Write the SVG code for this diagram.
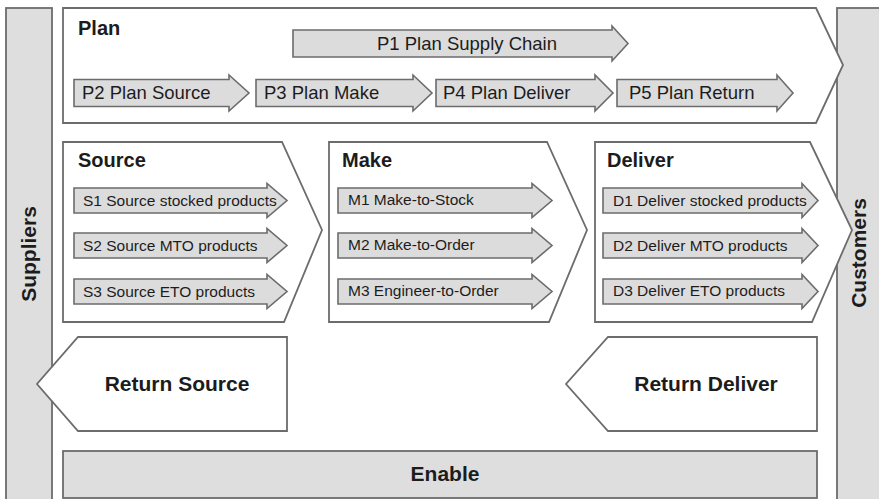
<svg xmlns="http://www.w3.org/2000/svg" width="879" height="499" viewBox="0 0 879 499">
  <style>
    .bar { fill: #dedede; stroke: #6c6c6c; stroke-width: 1.8; }
    .chev { fill: #ffffff; stroke: #6c6c6c; stroke-width: 1.8; stroke-linejoin: miter; }
    .arr { fill: #dcdcdc; stroke: #6c6c6c; stroke-width: 1.6; stroke-linejoin: miter; }
    text { font-family: "Liberation Sans", Arial, Helvetica, sans-serif; fill: #1c1c1c; }
    .title { font-size: 20px; font-weight: bold; }
    .big { font-size: 21px; font-weight: bold; }
    .pl { font-size: 18.5px; }
    .sub { font-size: 15.5px; }
  </style>

  <rect width="879" height="499" fill="#ffffff"/>

  <!-- side bars -->
  <g id="suppliers">
    <rect class="bar" x="6" y="8" width="46" height="500"/>
    <text class="big" transform="translate(36,254) rotate(-90)" text-anchor="middle">Suppliers</text>
  </g>
  <g id="customers">
    <rect class="bar" x="837" y="8" width="50" height="500"/>
    <text class="big" transform="translate(866,253) rotate(-90)" text-anchor="middle">Customers</text>
  </g>

  <!-- Plan -->
  <g id="plan">
    <path class="chev" d="M63,8 H816 L843,65 L816,123 H63 Z"/>
    <text class="title" x="78" y="35">Plan</text>
    <g id="p1">
      <path class="arr" d="M293,30 H612 V26 L628,43.5 L612,61 V57 H293 Z"/>
      <text class="pl" x="377" y="50">P1 Plan Supply Chain</text>
    </g>
    <g id="p2">
      <path class="arr" d="M74,79.5 H229 V75 L249,93 L229,111 V106.5 H74 Z"/>
      <text class="pl" x="82" y="99">P2 Plan Source</text>
    </g>
    <g id="p3">
      <path class="arr" d="M256,79.5 H413 V75 L432,93 L413,111 V106.5 H256 Z"/>
      <text class="pl" x="264" y="99">P3 Plan Make</text>
    </g>
    <g id="p4">
      <path class="arr" d="M436,79.5 H595 V75 L613,93 L595,111 V106.5 H436 Z"/>
      <text class="pl" x="443" y="99">P4 Plan Deliver</text>
    </g>
    <g id="p5">
      <path class="arr" d="M617,79.5 H777 V75 L793,93 L777,111 V106.5 H617 Z"/>
      <text class="pl" x="629" y="99">P5 Plan Return</text>
    </g>
  </g>

  <!-- Source -->
  <g id="source">
    <path class="chev" d="M63,142 H282 L322,230 L284,322 H63 Z"/>
    <text class="title" x="78" y="167">Source</text>
    <g id="s1">
      <path class="arr" d="M74,188 H267 V183.5 L287,200.5 L267,217.5 V213 H74 Z"/>
      <text class="sub" x="83" y="205.5">S1 Source stocked products</text>
    </g>
    <g id="s2">
      <path class="arr" d="M74,233 H267 V228.5 L287,245.5 L267,262.5 V258 H74 Z"/>
      <text class="sub" x="83" y="250.5">S2 Source MTO products</text>
    </g>
    <g id="s3">
      <path class="arr" d="M74,279 H267 V274.5 L287,291.5 L267,308.5 V304 H74 Z"/>
      <text class="sub" x="83" y="296.5">S3 Source ETO products</text>
    </g>
  </g>

  <!-- Make -->
  <g id="make">
    <path class="chev" d="M329,142 H547 L587,230 L549,322 H329 Z"/>
    <text class="title" x="342" y="167">Make</text>
    <g id="m1">
      <path class="arr" d="M338,188 H532 V183.5 L552,200.5 L532,217.5 V213 H338 Z"/>
      <text class="sub" x="348" y="205">M1 Make-to-Stock</text>
    </g>
    <g id="m2">
      <path class="arr" d="M338,233 H532 V228.5 L552,245.5 L532,262.5 V258 H338 Z"/>
      <text class="sub" x="348" y="250">M2 Make-to-Order</text>
    </g>
    <g id="m3">
      <path class="arr" d="M338,279 H532 V274.5 L552,291.5 L532,308.5 V304 H338 Z"/>
      <text class="sub" x="348" y="296">M3 Engineer-to-Order</text>
    </g>
  </g>

  <!-- Deliver -->
  <g id="deliver">
    <path class="chev" d="M595,142 H810 L852,230 L812,322 H595 Z"/>
    <text class="title" x="607" y="167">Deliver</text>
    <g id="d1">
      <path class="arr" d="M603,188 H802 V183.5 L818,200.5 L802,217.5 V213 H603 Z"/>
      <text class="sub" x="613" y="205.5">D1 Deliver stocked products</text>
    </g>
    <g id="d2">
      <path class="arr" d="M603,233 H802 V228.5 L818,245.5 L802,262.5 V258 H603 Z"/>
      <text class="sub" x="613" y="250.5">D2 Deliver MTO products</text>
    </g>
    <g id="d3">
      <path class="arr" d="M603,279 H802 V274.5 L818,291.5 L802,308.5 V304 H603 Z"/>
      <text class="sub" x="613" y="296">D3 Deliver ETO products</text>
    </g>
  </g>

  <!-- Return flows -->
  <g id="return-source">
    <path class="chev" d="M287,337 V431 H78 L37,384 L78,337 Z"/>
    <text class="big" x="177" y="391" text-anchor="middle">Return Source</text>
  </g>
  <g id="return-deliver">
    <path class="chev" d="M817,337 V431 H608 L566,384 L608,337 Z"/>
    <text class="big" x="706" y="391" text-anchor="middle">Return Deliver</text>
  </g>

  <!-- Enable -->
  <g id="enable">
    <rect class="bar" x="63" y="451" width="754" height="47"/>
    <text class="big" x="445" y="481" text-anchor="middle">Enable</text>
  </g>

  <!-- no connectors: the flow is carried by the chevron shapes -->
  <g id="connectors"/>
</svg>
